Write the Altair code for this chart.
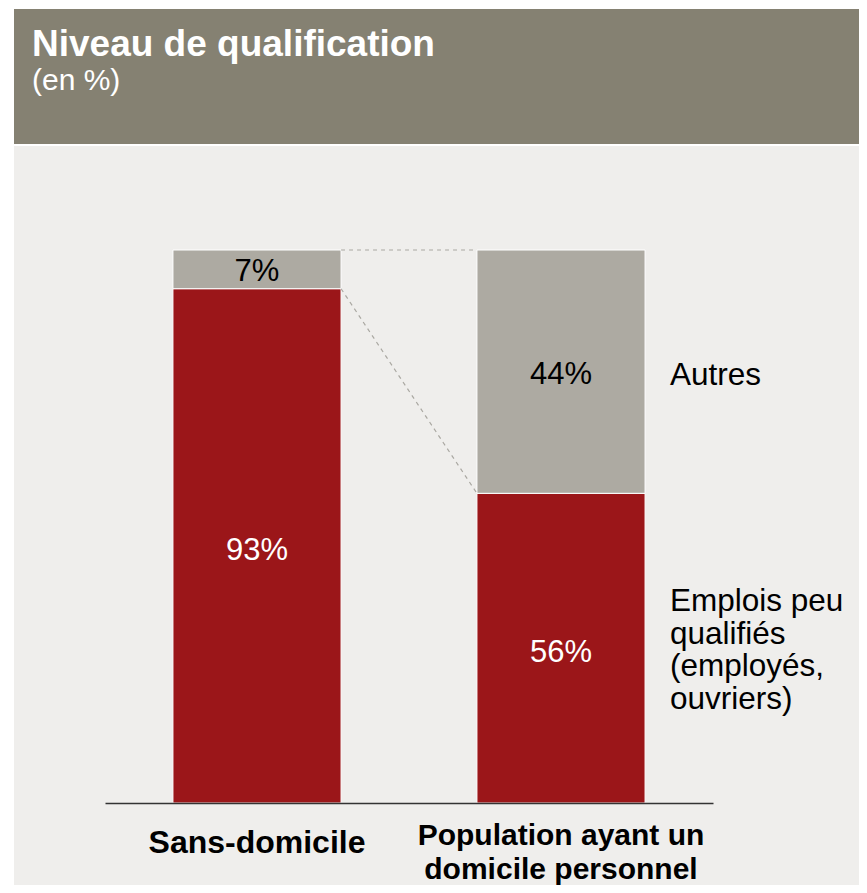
import altair as alt
import pandas as pd

# ---- data ----
categories = ["Sans-domicile", "Population ayant un domicile personnel"]
category_lines = [["Sans-domicile"], ["Population ayant un", "domicile personnel"]]
series = ["Emplois peu qualifiés (employés, ouvriers)", "Autres"]
series_lines = [["Emplois peu", "qualifiés", "(employés,", "ouvriers)"], ["Autres"]]
emplois = [93, 56]
autres = [7, 44]
title_text = "Niveau de qualification"
subtitle_text = "(en %)"

RED = "#9b1619"
GRAY = "#adaaa2"
HEADER = "#858172"
PANEL = "#efeeec"
FONT = "Liberation Sans"

rows = []
for i, cat in enumerate(categories):
    vals = [emplois[i], autres[i]]
    start = 0
    for j, s in enumerate(series):
        end = start + vals[j]
        rows.append({"cat": cat, "series": s, "start": start, "end": end,
                     "mid": (start + end) / 2, "label": f"{vals[j]}%"})
        start = end
bars_df = pd.DataFrame(rows)

conn_df = pd.DataFrame({
    "from": [categories[0], categories[0]],
    "to": [categories[1], categories[1]],
    "y_from": [100, emplois[0]],
    "y_to": [100, emplois[1]],
})

legend_df = bars_df[bars_df["cat"] == categories[1]].copy()
legend_df["text"] = [series_lines[series.index(s)] for s in legend_df["series"]]
legend_red = legend_df[legend_df["series"] == series[0]]
legend_gray = legend_df[legend_df["series"] == series[1]]

cat_df = pd.DataFrame({"cat": categories, "text": category_lines})

xscale = alt.Scale(domain=categories, paddingInner=0.447, paddingOuter=0.2235)
yscale = alt.Scale(domain=[0, 100])

xenc = alt.X("cat:N", scale=xscale, sort=categories,
             axis=alt.Axis(title=None, labels=False, ticks=False, domainColor="#333333",
                           domainWidth=1.5, grid=False, zindex=2))

# ---- decorative background ----
bg_df = pd.DataFrame({"k": [0]})
panel = alt.Chart(bg_df).mark_rect(color=PANEL).encode(
    x=alt.value(-91), x2=alt.value(754), y=alt.value(-104), y2=alt.value(640))
header = alt.Chart(bg_df).mark_rect(color=HEADER).encode(
    x=alt.value(-91), x2=alt.value(754), y=alt.value(-241), y2=alt.value(-106))
title = alt.Chart(bg_df).mark_text(align="left", baseline="alphabetic", font=FONT,
                                   fontSize=37, fontWeight="bold", color="white").encode(
    x=alt.value(-73), y=alt.value(-194), text=alt.value(title_text))
subtitle = alt.Chart(bg_df).mark_text(align="left", baseline="alphabetic", font=FONT,
                                      fontSize=30, color="white").encode(
    x=alt.value(-73), y=alt.value(-160), text=alt.value(subtitle_text))

bars = alt.Chart(bars_df).mark_bar(stroke="white", strokeWidth=1).encode(
    x=xenc,
    y=alt.Y("start:Q", scale=yscale, axis=None),
    y2="end:Q",
    color=alt.Color("series:N", scale=alt.Scale(domain=series, range=[RED, GRAY]), legend=None),
)

conn = alt.Chart(conn_df).mark_rule(color="#aaa8a2", strokeWidth=1.2, strokeDash=[4, 4]).encode(
    x=alt.X("from:N", scale=xscale, sort=categories, bandPosition=1),
    x2=alt.X2("to:N", bandPosition=0),
    y=alt.Y("y_from:Q", scale=yscale),
    y2="y_to:Q",
)

vals_red = alt.Chart(bars_df[bars_df["series"] == series[0]]).mark_text(
    font=FONT, fontSize=31, color="white", baseline="middle", dy=5).encode(
    x=alt.X("cat:N", scale=xscale, sort=categories),
    y=alt.Y("mid:Q", scale=yscale), text="label:N")
vals_gray = alt.Chart(bars_df[bars_df["series"] == series[1]]).mark_text(
    font=FONT, fontSize=31, color="black", baseline="middle", dy=3).encode(
    x=alt.X("cat:N", scale=xscale, sort=categories),
    y=alt.Y("mid:Q", scale=yscale), text="label:N")

leg_red = alt.Chart(legend_red).mark_text(
    font=FONT, fontSize=31.5, color="black", align="left", baseline="middle",
    lineHeight=32.5, dy=-46).encode(
    x=alt.value(565), y=alt.Y("mid:Q", scale=yscale), text="text")
leg_gray = alt.Chart(legend_gray).mark_text(
    font=FONT, fontSize=31.5, color="black", align="left", baseline="middle",
    dy=4).encode(
    x=alt.value(565), y=alt.Y("mid:Q", scale=yscale), text="text")

cat_lbl_1 = alt.Chart(cat_df[cat_df["cat"] == categories[0]]).mark_text(
    font=FONT, fontSize=32, fontWeight="bold", color="black", baseline="alphabetic").encode(
    x=alt.X("cat:N", scale=xscale, sort=categories), y=alt.value(603), text="text")
cat_lbl_2 = alt.Chart(cat_df[cat_df["cat"] == categories[1]]).mark_text(
    font=FONT, fontSize=30, fontWeight="bold", color="black", baseline="alphabetic",
    lineHeight=34).encode(
    x=alt.X("cat:N", scale=xscale, sort=categories), y=alt.value(595), text="text")

chart = alt.layer(panel, header, title, subtitle, bars, conn, vals_red, vals_gray,
                  leg_red, leg_gray, cat_lbl_1, cat_lbl_2).properties(
    width=608, height=553,
    autosize=alt.AutoSizeParams(type="none"),
    padding={"left": 97, "top": 242, "right": 146, "bottom": 82},
    background="white",
).configure_view(stroke=None)

chart.save("out.html", embed_options={"renderer": "svg", "actions": False})
